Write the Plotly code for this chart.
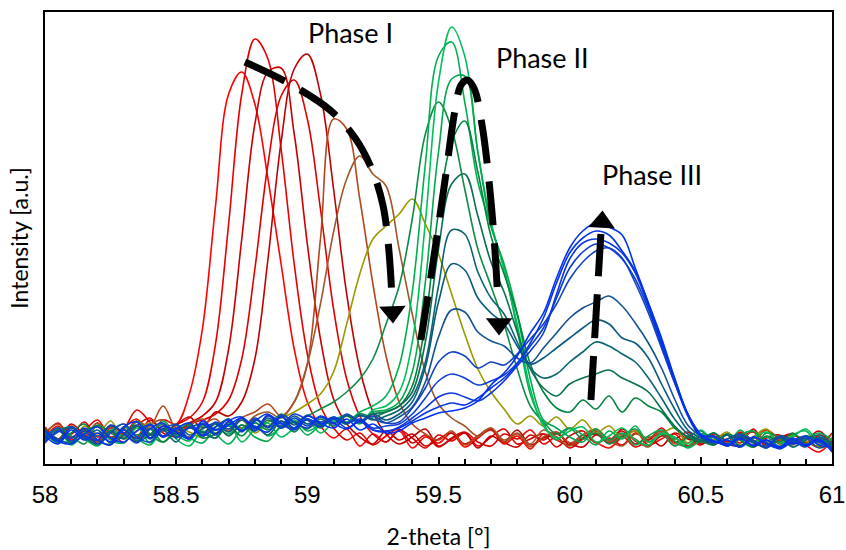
import plotly.graph_objects as go

# 2-theta grid (step 0.05 deg)
two_theta = [round(58 + 0.05 * i, 2) for i in range(61)]

# Intensity series (a.u.), in time order
R1 = [34,22,38,27,41,24,36,45,30,44,40, 70,135,258,370,392,360,285,200,115,62, 38,26,35,18,30,22,33,16,27,21, 31,17,26,34,20,28,15,30,24,19, 29,22,16,27,33,19,25,30,18,24, 28,20,32,23,17,26,30,19,12,24]
R2 = [26,38,24,33,44,27,35,54,42,28,39, 46,62,120,240,370,425,405,315,200,110, 58,36,24,31,19,28,35,21,29,17, 26,32,22,18,30,25,34,20,27,16, 25,33,21,28,17,24,31,22,26,19, 30,23,17,27,34,20,25,18,29,23]
R3 = [37,25,40,29,22,36,31,43,26,38,32, 41,48,62,115,225,340,392,396,330,220, 125,65,40,27,20,33,24,30,18,25, 31,20,28,35,22,17,29,24,32,19, 26,30,21,35,23,18,28,25,32,20, 27,22,31,17,26,29,21,24,33,19]
R4 = [25,36,30,42,27,33,21,38,46,31,28, 40,44,50,64,105,195,300,368,384,345, 255,155,85,48,30,22,34,26,16,29, 23,31,18,27,35,20,25,30,17,28, 33,21,26,19,31,24,36,22,18,27, 24,30,21,35,19,26,29,23,17,31]
R5 = [29,41,26,35,23,38,30,27,44,33,39, 47,36,52,48,62,105,205,322,395,410, 370,275,170,95,52,30,20,27,35,18, 25,31,16,28,22,34,19,26,30,21, 17,29,24,33,20,27,18,31,25,22, 28,19,26,32,17,24,30,21,27,13]
B1 = [31,40,27,35,22,37,29,42,38,58,34, 27,39,45,33,46,52,60,48,62,100, 225,345,335,265,180,108,62,40,30,24, 33,19,28,36,22,30,17,27,32,21, 29,35,24,18,30,26,33,20,28,24, 31,18,27,22,34,25,19,28,23,30]
B2 = [33,24,36,29,41,26,34,23,39,44,30, 38,45,31,42,36,48,52,46,62,100, 160,232,285,308,290,278,215,150,92,60, 46,38,28,36,24,31,20,34,27,18, 29,33,22,30,25,17,32,26,21,28, 19,30,24,33,22,17,28,25,21,26]
O1 = [26,35,22,38,30,43,25,33,41,28,37, 32,27,40,35,44,31,42,46,52,60, 70,92,140,190,225,238,250,265,240,210, 170,130,95,72,55,40,48,38,47,35, 44,31,38,26,33,22,30,36,21,28, 24,32,19,27,35,21,29,23,18,26]
G1 = [24,36,28,20,39,31,26,43,30,22,35, 41,29,37,45,33,44,38,50,42,48, 55,62,72,85,105,140,178,245,330,362, 335,275,215,178,140,95,58,42,30,36, 25,31,20,28,35,22,30,18,27,33, 21,29,24,17,31,26,20,28,23,19]
G2 = [32,21,37,27,18,33,40,26,19,34,29, 23,38,30,20,35,42,28,37,44,33, 40,46,42,52,58,68,98,172,300,408, 422,362,282,238,195,135,70,40,24,36, 29,19,33,25,38,22,30,27,16,24, 31,20,34,22,27,18,29,33,19,25]
G3 = [28,35,19,31,38,24,21,36,29,43,25, 18,33,26,40,22,35,41,27,36,44, 31,42,48,40,54,58,72,122,242,382, 437,408,312,242,195,140,75,38,26,33, 37,22,28,36,24,19,31,26,20,34, 23,29,17,26,32,21,27,35,22,18]
G4 = [22,33,37,25,19,34,28,38,21,36,30, 26,21,35,30,39,27,23,38,41,29, 39,44,49,42,52,54,62,92,182,312, 385,388,312,238,200,150,85,44,36,27, 22,35,24,31,19,28,34,23,17,30, 26,18,29,33,20,27,17,25,31,24]
G5 = [35,23,31,40,24,20,37,29,35,22,33, 39,26,30,38,28,41,34,43,32,45, 36,46,40,50,47,52,58,78,142,252, 322,343,292,228,190,150,100,72,56,52, 64,55,68,52,66,58,52,36,27,23, 19,30,24,17,28,22,31,20,26,18]
T1 = [25,34,21,30,38,26,35,23,29,40,27, 36,31,40,28,39,33,44,36,42,35, 45,38,48,41,50,52,58,72,122,215, 280,290,248,202,172,132,95,76,68,80, 86,90,94,86,80,72,55,38,27,22, 31,19,27,23,16,26,21,28,24,17]
T2 = [30,24,36,27,20,33,25,38,29,34,22, 37,32,26,40,34,38,29,43,35,45, 38,46,41,49,44,48,54,67,102,178, 234,230,192,166,150,122,96,86,90,102, 112,122,118,110,102,86,66,45,30,24, 21,29,18,26,23,27,17,24,29,20]
T3 = [33,25,21,35,28,38,31,22,36,27,40, 29,35,41,32,44,36,46,38,48,40, 47,41,49,43,50,44,50,62,97,162, 200,194,166,151,140,118,100,106,116,126, 136,144,140,126,121,106,80,55,34,26, 20,25,28,21,17,27,23,26,16,22]
T4 = [23,32,37,26,34,21,29,39,25,35,30, 36,40,29,42,33,45,36,48,39,49, 42,47,40,48,45,41,47,57,82,127, 154,152,132,123,118,106,101,116,131,146, 156,162,168,158,141,121,96,65,39,28, 21,25,30,22,18,28,24,17,27,20]
U1 = [26,36,23,33,20,31,40,27,22,35,39, 26,41,34,45,32,46,37,49,42,36, 47,40,50,43,48,41,42,56,76,102, 112,108,96,102,99,110,125,140,160,185, 202,213,216,206,181,151,116,81,50,30, 23,19,29,24,16,27,20,26,22,15]
U2 = [33,22,37,28,24,39,31,21,35,41,26, 37,29,42,35,46,33,48,40,50,44, 37,47,41,45,36,38,40,50,66,83, 90,86,79,83,89,101,118,136,166,196, 212,220,216,205,185,155,118,82,50,29, 28,20,18,27,21,17,26,19,24,16]
U3 = [21,33,26,36,24,19,34,25,40,28,36, 25,40,30,43,47,35,49,41,34,45, 40,45,36,42,34,32,37,46,56,67, 71,67,63,71,83,98,113,131,170,205, 221,225,221,211,191,158,121,83,48,28, 27,18,25,19,24,15,23,28,19,17]
U4 = [34,23,20,30,37,26,22,33,39,27,35, 41,28,37,44,33,43,50,36,46,38, 48,41,35,44,34,33,36,43,51,57, 61,59,66,76,86,100,121,146,181,211, 226,233,229,213,193,161,123,85,50,29, 22,24,17,27,20,16,25,18,23,13]
U5 = [28,20,34,24,31,22,37,42,26,38,32, 25,43,34,39,46,37,32,47,36,48, 41,36,45,34,40,31,33,41,46,51, 53,56,63,79,91,108,131,151,186,216, 233,241,237,229,196,161,126,86,50,28, 23,19,26,18,24,17,21,19,25,12]

series = [R1, R2, R3, R4, R5, B1, B2, O1, G1, G2, G3, G4, G5,
          T1, T2, T3, T4, U1, U2, U3, U4, U5]
colors = ["#FF0000", "#E80000", "#C80000", "#DD0000", "#C00000",
          "#B5451B", "#A0562A", "#999900",
          "#0E8C46", "#00B050", "#00C05A", "#00A84E", "#00843F",
          "#0A6E50", "#0A6470", "#0A5A80", "#125290",
          "#1444C0", "#0E3ED0", "#0A38DC", "#0634E8", "#0030F4"]

# annotation arrows (data coordinates)
arrow1_x = [58.762, 58.934, 59.086, 59.182, 59.247, 59.288, 59.307, 59.319, 59.323]
arrow1_y = [402, 380, 354, 326, 294, 259, 224, 184, 160]
arrow2_x = [59.433, 59.475, 59.525, 59.563, 59.586, 59.609, 59.635, 59.666, 59.696, 59.715, 59.727]
arrow2_y = [124, 194, 284, 354, 379, 384, 376, 339, 274, 214, 160]
arrow3_x = [60.081, 60.119]
arrow3_y = [64, 230]
heads_x = [59.325, 59.731, 60.123]
heads_y = [152, 140, 242]
heads_sym = ["triangle-down", "triangle-down", "triangle-up"]
heads_ang = [-2, 0, 3]

labels = ["Phase I", "Phase II", "Phase III"]
labels_x = [59.165, 59.898, 60.314]
labels_y = [432, 407, 290]

fig = go.Figure()
for s, c in zip(series, colors):
    fig.add_trace(go.Scatter(x=two_theta, y=s, mode="lines",
                             line=dict(color=c, width=1.6, shape="spline", smoothing=1.0),
                             hoverinfo="skip"))

for ax_, ay_ in [(arrow1_x, arrow1_y), (arrow2_x, arrow2_y), (arrow3_x, arrow3_y)]:
    fig.add_trace(go.Scatter(x=ax_, y=ay_, mode="lines",
                             line=dict(color="black", width=7, dash="44px,18px", shape="spline"),
                             hoverinfo="skip"))
fig.add_trace(go.Scatter(x=heads_x, y=heads_y, mode="markers",
                         marker=dict(symbol=heads_sym, size=23, color="black", angle=heads_ang,
                                     line=dict(width=0)),
                         hoverinfo="skip"))

for t, lx, ly in zip(labels, labels_x, labels_y):
    fig.add_annotation(x=lx, y=ly, text=t, showarrow=False,
                       font=dict(family="Lato, Carlito, sans-serif", size=27, color="black"))

fig.update_layout(
    width=846, height=550,
    margin=dict(l=45, r=14, t=12, b=86, autoexpand=False),
    paper_bgcolor="white", plot_bgcolor="white",
    showlegend=False,
    xaxis=dict(range=[58, 61], tickvals=[58, 58.5, 59, 59.5, 60, 60.5, 61],
               ticktext=["58", "58.5", "59", "59.5", "60", "60.5", "61"],
               ticks="inside", ticklen=7, tickwidth=1.5, tickcolor="black",
               minor=dict(dtick=0.1, tick0=58, ticks="inside", ticklen=5, tickwidth=1.5, tickcolor="black"),
               showline=True, linecolor="black", linewidth=2, mirror=True,
               showgrid=False, zeroline=False, automargin=False,
               ticklabelstandoff=8,
               tickfont=dict(family="Liberation Sans, Arial", size=24, color="black"),
               title=dict(text="2-theta [°]", standoff=22,
                          font=dict(family="Lato, Carlito, sans-serif", size=23, color="black"))),
    yaxis=dict(range=[0, 452], showticklabels=False, ticks="",
               showline=True, linecolor="black", linewidth=2, mirror=True,
               showgrid=False, zeroline=False, automargin=False,
               title=dict(text="Intensity [a.u.]", standoff=8,
                          font=dict(family="Lato, Carlito, sans-serif", size=23, color="black"))),
)

fig.write_html("out.html")
